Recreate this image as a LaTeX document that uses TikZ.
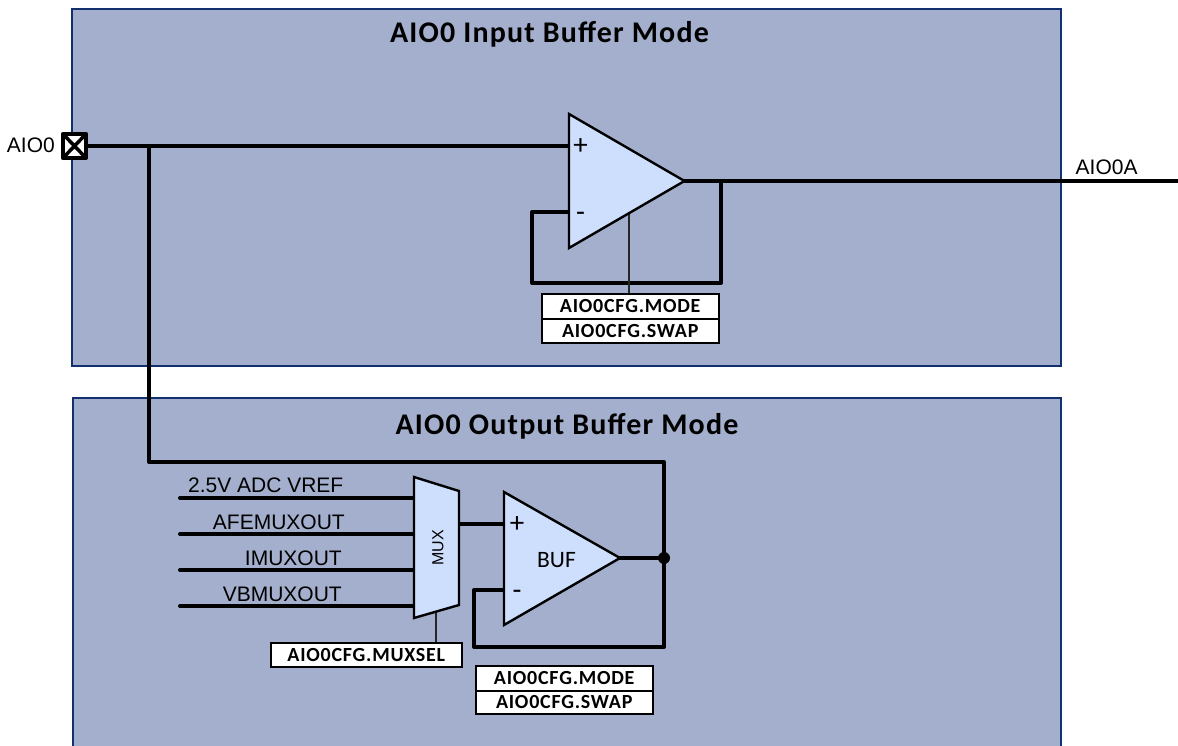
\documentclass[tikz,border=0pt]{standalone}
\usepackage{fontspec}
\setmainfont{Liberation Sans}
\newfontfamily\carl{Carlito}
\newfontfamily\carltitle[LetterSpace=4]{Carlito}
\newfontfamily\carlreg[LetterSpace=3.8]{Carlito}
\definecolor{panel}{HTML}{A3AFCC}
\definecolor{panelline}{HTML}{12306E}
\definecolor{ampfill}{HTML}{CEDEFD}
\tikzset{
  wire/.style={line width=4pt,line cap=round,line join=round,black},
  thin wire/.style={line width=1.5pt,black!85},
  device/.style={draw=black,fill=ampfill,line width=2.4pt,line join=miter},
  panelbox/.style={fill=panel},
  panelrule/.style={draw=panelline,line width=1.8pt},
  title/.style={font=\carltitle\bfseries\fontsize{30}{33}\selectfont,inner sep=0pt},
  sig/.style={font=\fontsize{21}{24}\selectfont,inner sep=0pt,text=black},
  reg/.style={draw=black,fill=white,line width=1.5pt,inner sep=0pt,font=\carlreg\bfseries\fontsize{20}{22}\selectfont,anchor=north west},
  pm/.style={font=\carl\fontsize{29}{32}\selectfont,inner sep=0pt},
}
\begin{document}
\begin{tikzpicture}[x=1pt,y=-1pt]
\useasboundingbox (0,0) rectangle (1178,746);
% panels
\fill[panelbox] (72,9) rectangle (1061,366);
\draw[panelrule] (72,9) rectangle (1061,366);
\fill[panelbox] (73,398) rectangle (1061,746);
\draw[panelrule] (73,746) -- (73,398) -- (1061,398) -- (1061,746);
\node[title] (t1) at (549.5,34.5) {AIO0 Input Buffer Mode};
\node[title] (t2) at (567,426.5) {AIO0 Output Buffer Mode};
% coordinates
\coordinate (pin) at (75,146);
\coordinate (ampP) at (569,146);
\coordinate (ampN) at (569,212);
\coordinate (ampT) at (684.5,181);
\coordinate (ampA) at (569,114);
\coordinate (ampB) at (569,248);
\coordinate (branch) at (149,146);
\coordinate (outEnd) at (1178,181);
\coordinate (fbR) at (721,181);
\coordinate (fbBR) at (721,283);
\coordinate (fbBL) at (532,283);
\coordinate (fbTL) at (532,212);
\coordinate (ctl) at (629,213);
\coordinate (bufA) at (504,492);
\coordinate (bufB) at (504,625);
\coordinate (bufT) at (620,558);
\coordinate (bufP) at (504,524);
\coordinate (bufN) at (504,590);
\coordinate (busBL) at (149,462);
\coordinate (busBR) at (664,462);
\coordinate (lpBR) at (664,647);
\coordinate (lpBL) at (474,647);
\coordinate (lpTL) at (474,590);
\coordinate (muxOut) at (459,524);
\coordinate (muxCtl) at (436,612);
\foreach \n/\y in {a/498,b/534,c/570,d/606}{
  \coordinate (in\n) at (180,\y);
  \coordinate (mx\n) at (414,\y);
}
% wires
\draw[wire] (pin) -- (ampP);
\draw[wire] (branch) -- (busBL) -- (busBR) -- (lpBR) -- (lpBL) -- (lpTL) -- (bufN);
\draw[wire] (ampT) -- (outEnd);
\draw[wire] (fbR) -- (fbBR) -- (fbBL) -- (fbTL) -- (ampN);
\draw[wire] (bufT) -- (664,558);
\draw[wire] (muxOut) -- (bufP);
\foreach \n in {a,b,c,d}{\draw[wire] (in\n) -- (mx\n);}
% registers
\node[reg,minimum width=177pt,minimum height=25pt] (r1) at (541,293) {AIO0CFG.MODE};
\node[reg,minimum width=177pt,minimum height=24pt] (r2) at (541,318) {AIO0CFG.SWAP};
\node[reg,minimum width=191pt,minimum height=24pt] (r3) at (270,642) {AIO0CFG.MUXSEL};
\node[reg,minimum width=177pt,minimum height=25pt] (r4) at (475,665) {AIO0CFG.MODE};
\node[reg,minimum width=177pt,minimum height=23pt] (r5) at (475,690) {AIO0CFG.SWAP};
\draw[thin wire] (ctl) -- (ctl |- r1.north);
\draw[thin wire] (muxCtl) -- (muxCtl |- r3.north);
% devices
\draw[device] (ampA) -- (ampT) -- (ampB) -- cycle;
\draw[device] (bufA) -- (bufT) -- (bufB) -- cycle;
\draw[device] (414,477) -- (459,491) -- (459,605) -- (414,618) -- cycle;
\node[pm] (p1) at (580.5,147) {+};
\node[pm] (m1) at (580.5,216.5) {-};
\node[pm] (p2) at (517,525) {+};
\node[pm] (m2) at (517,595) {-};
\node[font=\carl\fontsize{23.5}{26}\selectfont,inner sep=0pt] (buf) at (556.5,560) {BUF};
\node[font=\fontsize{16}{18}\selectfont,inner sep=0pt,rotate=90,text=black] (mux) at (438,548) {MUX};
\fill[black] (664,558) circle (6);
% terminal
\draw[black,fill=white,line width=4.2pt,line join=round] (63,134) rectangle (86,158);
\draw[black,line width=3.5pt] (63,134) -- (86,158) (86,134) -- (63,158);
% signal labels
\node[sig,anchor=east] (aio) at (55,145) {AIO0};
\node[sig,anchor=west] (aioa) at (1075.5,167) {AIO0A};
\node[sig,anchor=east] (l1) at (343.5,485.5) {2.5V ADC VREF};
\node[sig,anchor=east] (l2) at (345,522) {AFEMUXOUT};
\node[sig,anchor=east] (l3) at (342,558) {IMUXOUT};
\node[sig,anchor=east] (l4) at (342,594) {VBMUXOUT};
\end{tikzpicture}
\end{document}
